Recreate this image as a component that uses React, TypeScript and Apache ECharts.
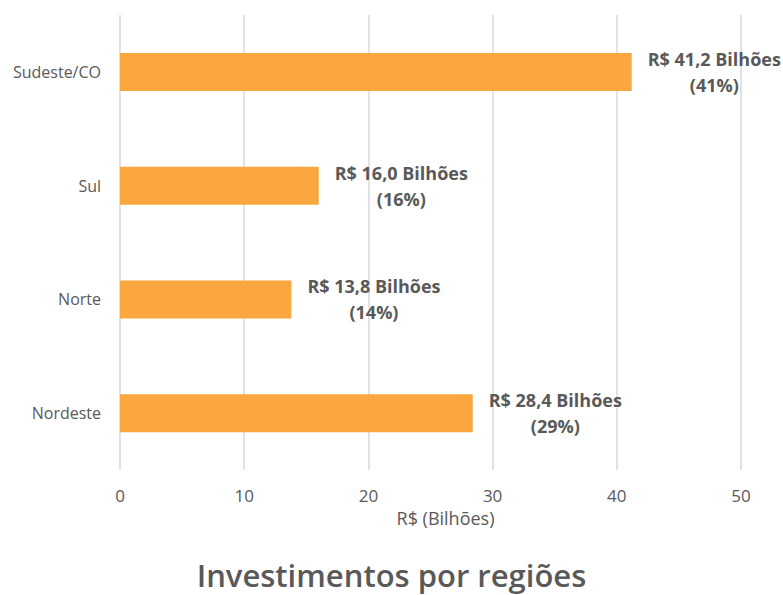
import React, { useEffect, useRef } from "react";
import * as echarts from "echarts";

const categories = ["Nordeste", "Norte", "Sul", "Sudeste/CO"];
const values = [28.4, 13.8, 16.0, 41.2];
const percents = ["29%", "14%", "16%", "41%"];
const xTicks = [0, 10, 20, 30, 40, 50];

export default function App() {
  const ref = useRef<HTMLDivElement>(null);
  useEffect(() => {
    if (!ref.current) return;
    const chart = echarts.init(ref.current, undefined, { renderer: "svg" });
    chart.setOption({
      animation: false,
      backgroundColor: "#ffffff",
      title: {
        text: "Investimentos por regiões",
        left: "center",
        top: 557,
        padding: 0,
        textStyle: { fontFamily: "Open Sans", fontSize: 31, fontWeight: 600, color: "#595959", lineHeight: 36 },
      },
      grid: { left: 120, right: 42, top: 15, bottom: 125, containLabel: false },
      xAxis: {
        type: "value",
        min: xTicks[0],
        max: xTicks[xTicks.length - 1],
        interval: 10,
        name: "R$ (Bilhões)",
        nameLocation: "middle",
        nameGap: 38,
        nameTextStyle: { fontFamily: "Open Sans", fontSize: 18, color: "#595959", padding: [0, 0, 0, 30] },
        axisLine: { show: false },
        axisTick: { show: false },
        axisLabel: { fontFamily: "Open Sans", fontSize: 17, color: "#595959", margin: 17 },
        splitLine: { show: true, lineStyle: { color: "#d9d9d9", width: 1.5 } },
      },
      yAxis: {
        type: "category",
        data: categories,
        axisLine: { show: false },
        axisTick: { show: false },
        axisLabel: { fontFamily: "Open Sans", fontSize: 16, color: "#595959", margin: 19 },
      },
      series: [
        {
          type: "bar",
          data: values,
          barWidth: 38,
          itemStyle: { color: "#F9A73E" },
          label: {
            show: true,
            position: "right",
            distance: 16,
            formatter: (p: any) =>
              `{a|R$ ${values[p.dataIndex].toFixed(1).replace(".", ",")} Bilhões}\n{a|(${percents[p.dataIndex]})}`,
            rich: {
              a: {
                fontFamily: "Open Sans",
                fontSize: 18,
                fontWeight: "bold",
                color: "#595959",
                lineHeight: 26,
                align: "center",
              },
            },
          },
        },
      ],
    });
    return () => chart.dispose();
  }, []);
  return (
    <div
      ref={ref}
      style={{ position: "fixed", left: 0, top: 0, width: 783, height: 595 }}
    />
  );
}
